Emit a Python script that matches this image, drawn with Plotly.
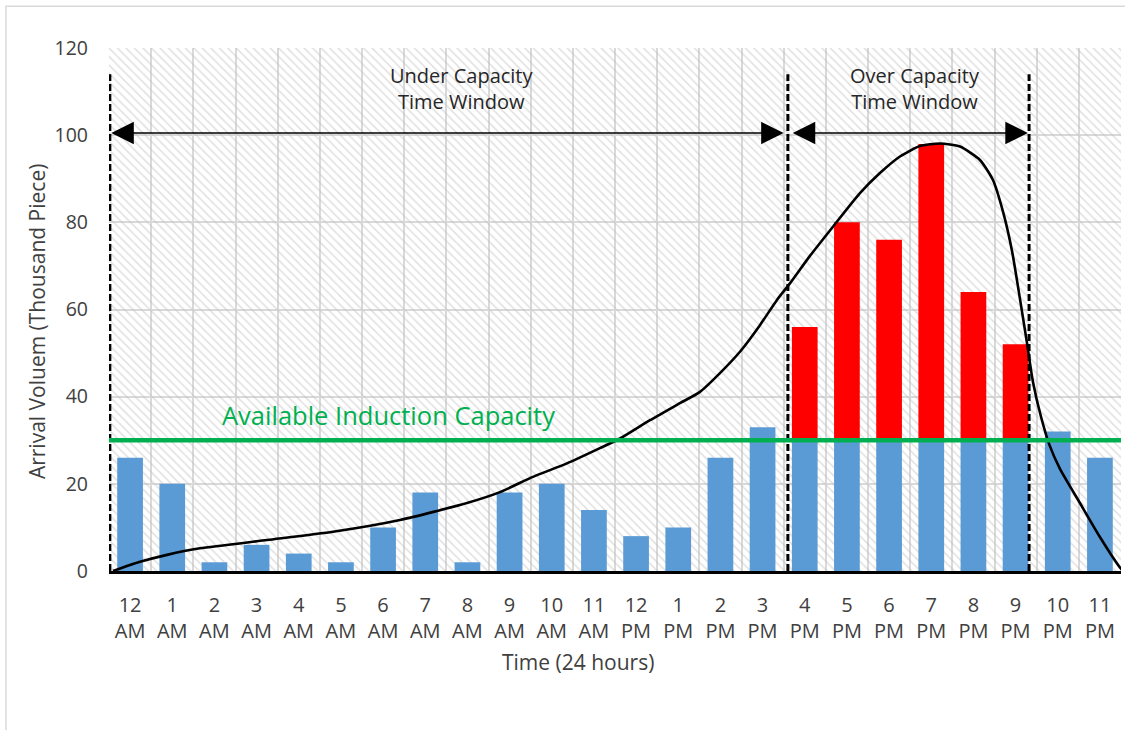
import plotly.graph_objects as go

# Hourly arrival volume (thousand pieces), one value per hour of the day
clock = ["12", "1", "2", "3", "4", "5", "6", "7", "8", "9", "10", "11"] * 2
meridiem = ["AM"] * 12 + ["PM"] * 12
hours = list(range(24))
arrivals = [26, 20, 2, 6, 4, 2, 10, 18, 2, 18, 20, 14,
            8, 10, 26, 33, 56, 80, 76, 98, 64, 52, 32, 26]

# Induction capacity (thousand pieces per hour)
capacity = 30

# Over-capacity window: 4 PM through 9 PM
over_first, over_last = 16, 21

# Smoothed arrival profile
curve_hour = [-0.405, 0.235, 0.875, 1.658, 3.247, 4.812, 6.401, 7.989, 8.772, 9.554,
              10.361, 11.143, 11.618, 12.329, 13.040, 13.515, 13.989, 14.463, 14.937,
              15.341, 15.649, 16.123, 16.669, 17.309, 17.783, 18.258, 18.732, 19.206,
              19.680, 20.155, 20.463, 20.700, 20.914, 21.103, 21.269, 21.410, 21.600,
              21.800, 22.050, 22.526, 23.000, 23.474, 23.545]
curve_volume = [0, 2.1, 3.7, 5.2, 7.1, 9.0, 11.7, 15.6, 18.1, 21.6,
                24.7, 28.2, 30.4, 34.6, 38.5, 41.1, 45.4, 50.3, 56.4,
                62.2, 66.0, 72.3, 79.0, 86.7, 91.3, 95.1, 97.5, 98.1,
                97.4, 94.3, 89.7, 82.5, 73.5, 62.5, 52.4, 43.5, 35.5,
                29.0, 23.5, 15.6, 7.8, 0.8, 0]

# Time-window markers
window_edges = [-0.48, 15.6, 21.32]
window_top = 114
arrow_level = 100.5
under_label = "Under Capacity<br>Time Window"
over_label = "Over Capacity<br>Time Window"
capacity_label = "Available Induction Capacity"

x_range = [-0.5, 23.5]
y_range = [0, 120]

FONT = "Open Sans"
TEXT_GREY = "#404040"
GRID = "#d9d9d9"
BLUE = "#5B9BD5"
RED = "#FF0000"
GREEN = "#00B050"

in_window = [over_first <= h <= over_last for h in hours]
blue_part = [min(v, capacity) if w else v for v, w in zip(arrivals, in_window)]
red_part = [max(v - capacity, 0) if w else 0 for v, w in zip(arrivals, in_window)]

fig = go.Figure()

# Hatched plot background
fig.add_trace(go.Bar(
    x=[(x_range[0] + x_range[1]) / 2], y=[y_range[1]], width=[x_range[1] - x_range[0]],
    marker=dict(color="rgba(0,0,0,0)", line=dict(width=0),
                pattern=dict(shape="\\", size=6, solidity=0.25,
                             fgcolor="#c0c0c0", bgcolor="rgba(0,0,0,0)")),
    hoverinfo="skip", showlegend=False,
))

fig.add_trace(go.Bar(
    x=hours, y=blue_part, width=0.61, marker=dict(color=BLUE, line=dict(width=0)),
    showlegend=False, name="Within capacity",
))
fig.add_trace(go.Bar(
    x=hours, y=red_part, base=capacity, width=0.61,
    marker=dict(color=RED, line=dict(width=0)),
    showlegend=False, name="Over capacity",
))

fig.add_trace(go.Scatter(
    x=curve_hour, y=curve_volume, mode="lines",
    line=dict(color="black", width=2.6, shape="spline", smoothing=0.6),
    showlegend=False, hoverinfo="skip",
))

shapes = []
for xe in window_edges:
    shapes.append(dict(type="line", xref="x", yref="y", x0=xe, x1=xe,
                       y0=0, y1=window_top,
                       line=dict(color="black", width=3, dash="7px,3px")))
shapes.append(dict(type="line", xref="x", yref="y", x0=x_range[0], x1=x_range[1] + 0.1,
                   y0=capacity, y1=capacity, line=dict(color=GREEN, width=4.5)))
# outer chart frame
shapes.append(dict(type="rect", xref="paper", yref="paper",
                   x0=-0.1018, x1=1.02, y0=-0.33, y1=1.080,
                   line=dict(color="#d9d9d9", width=1.5), layer="below"))

annotations = []
# double-headed arrows spanning each window
for x_a, x_b in [(window_edges[0], window_edges[1] - 0.1), (window_edges[1] + 0.08, window_edges[2] - 0.03)]:
    annotations.append(dict(
        x=x_b, y=arrow_level, ax=x_a, ay=arrow_level, xref="x", yref="y",
        axref="x", ayref="y", text="", showarrow=True, arrowside="end+start",
        arrowhead=2, startarrowhead=2, arrowsize=3.0, startarrowsize=3.0,
        arrowwidth=1.5, arrowcolor="black", standoff=0, startstandoff=0,
    ))
annotations.append(dict(x=7.87, y=110.7, xref="x", yref="y", text=under_label,
                        showarrow=False, font=dict(family=FONT, size=20, color="#262626")))
annotations.append(dict(x=18.61, y=110.8, xref="x", yref="y", text=over_label,
                        showarrow=False, font=dict(family=FONT, size=20, color="#262626")))
annotations.append(dict(x=6.13, y=35.8, xref="x", yref="y", text=capacity_label,
                        showarrow=False, font=dict(family=FONT, size=25.5, color=GREEN)))
annotations.append(dict(x=-0.0711, y=0.476, xref="paper", yref="paper",
                        xanchor="center", yanchor="middle",
                        text="Arrival Voluem (Thousand Piece)", textangle=-90,
                        showarrow=False, font=dict(family=FONT, size=21, color=TEXT_GREY)))
annotations.append(dict(x=0.4634, y=-0.174, xref="paper", yref="paper",
                        xanchor="center", yanchor="middle",
                        text="Time (24 hours)", showarrow=False,
                        font=dict(family=FONT, size=21, color=TEXT_GREY)))

fig.update_layout(
    width=1125, height=730,
    margin=dict(l=109, r=4, t=48, b=159),
    paper_bgcolor="white", plot_bgcolor="white",
    barmode="overlay",
    shapes=shapes, annotations=annotations,
    font=dict(family=FONT, color=TEXT_GREY),
    xaxis=dict(
        range=x_range, tickmode="array", tickvals=hours,
        ticktext=[f"{c}<br>{m}" for c, m in zip(clock, meridiem)],
        tickfont=dict(family=FONT, size=20, color=TEXT_GREY),
        showgrid=False, zeroline=False, ticks="", ticklabelstandoff=14,
        showline=True, linecolor="black", linewidth=2.5,
        minor=dict(tickmode="linear", tick0=-0.5, dtick=1, showgrid=True,
                   gridcolor=GRID, gridwidth=1.5),
        fixedrange=True,
    ),
    yaxis=dict(
        range=y_range, tickmode="linear", tick0=0, dtick=20,
        tickfont=dict(family=FONT, size=19.5, color=TEXT_GREY),
        showgrid=True, gridcolor=GRID, gridwidth=1.5, zeroline=False,
        showline=False, ticks="", ticklabelstandoff=20, fixedrange=True,
    ),
)

fig.write_html("out.html")
